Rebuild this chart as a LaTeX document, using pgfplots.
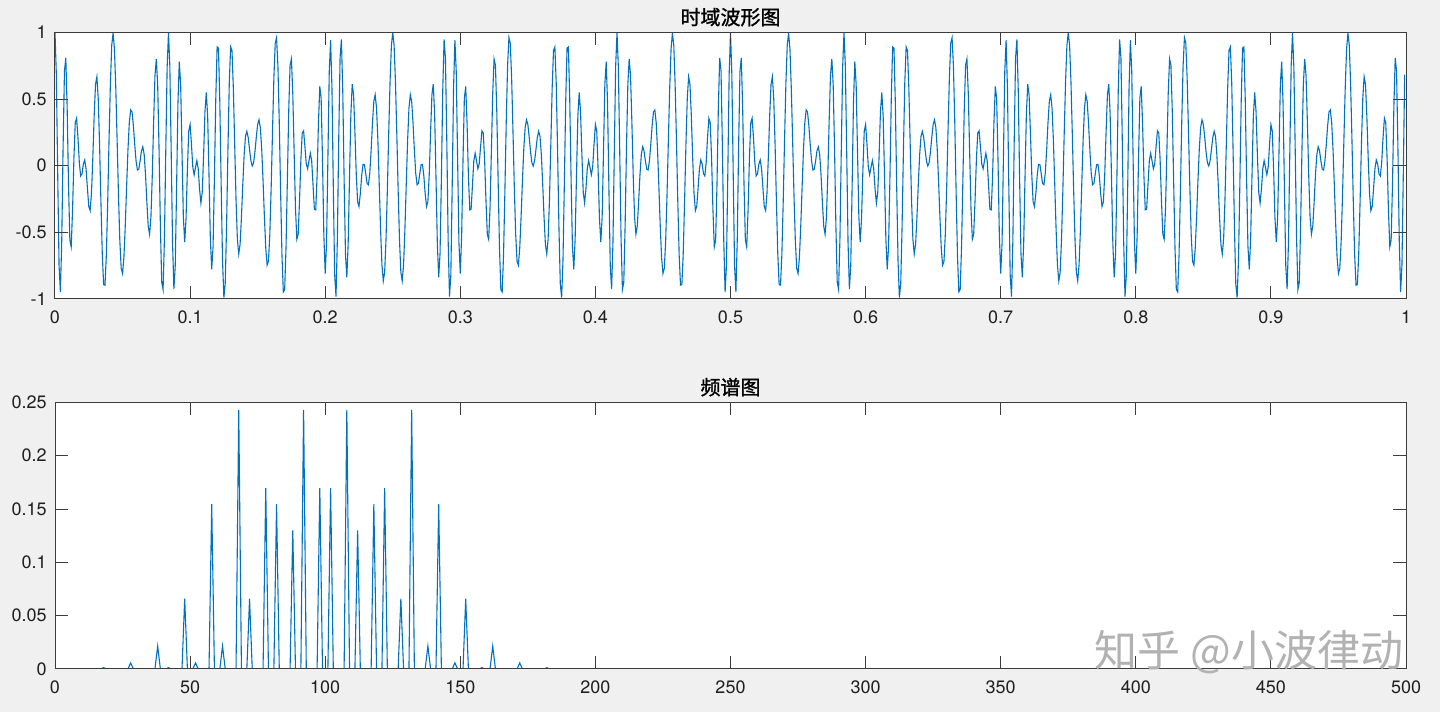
\documentclass[border=0pt]{standalone}
\usepackage{fontspec}
\setmainfont{TeX Gyre Heros}
\newfontfamily\cjk{Noto Sans CJK SC}
\newfontfamily\cjkb{Noto Sans CJK SC}[FakeBold=1.2]
\usepackage{pgfplots}
\pgfplotsset{compat=1.18}
\definecolor{mline}{rgb}{0,0.447,0.741}
\definecolor{figbg}{RGB}{240,240,240}
\definecolor{axc}{RGB}{60,60,60}
\definecolor{wm}{RGB}{178,178,178}
\pgfplotsset{mstyle/.style={
  scale only axis, width=675.5pt, height=133.3pt,
  axis background/.style={fill=white},
  axis line style={draw=axc, line width=0.5pt},
  every tick/.style={draw=axc, line width=0.5pt},
  major tick length=6.5pt,
  tick align=inside,
  xtick pos=both, ytick pos=both,
  xticklabel pos=lower, yticklabel pos=left,
  every tick label/.append style={font=\fontsize{9}{10}\selectfont, text=black!88},
  xticklabel style={yshift=-2.5pt},
  yticklabel style={xshift=-0.6pt},
  /pgf/number format/assume math mode=true,
  scaled ticks=false,
  every axis title/.style={font=\cjkb\fontsize{10}{12}\selectfont, at={(0.5,1)}, anchor=base, yshift=3.85pt, inner sep=0pt},
  axis on top,
  clip=true,
}}
\begin{document}
\begin{tikzpicture}[x=1pt,y=1pt]
\useasboundingbox (0,0) rectangle (720,356);
\fill[figbg] (0,0) rectangle (720,356);
\begin{axis}[mstyle,
  at={(27.5pt,206.5pt)}, anchor=south west,
  title={时域波形图},
  xmin=0, xmax=1000, ymin=-1, ymax=1,
  xtick={0,100,200,300,400,500,600,700,800,900,1000},
  xticklabels={0,0.1,0.2,0.3,0.4,0.5,0.6,0.7,0.8,0.9,1},
  ytick={-1,-0.5,0,0.5,1},
  yticklabels={-1,-0.5,0,0.5,1},
]
\addplot[mline, line width=0.55pt] table {
n y
0 1.000
1 0.683
2 -0.061
3 -0.749
4 -0.948
5 -0.558
6 0.145
7 0.709
8 0.809
9 0.434
10 -0.140
11 -0.557
12 -0.609
13 -0.333
14 0.055
15 0.322
16 0.356
17 0.210
18 0.024
19 -0.077
20 -0.060
21 0.012
22 0.043
23 -0.024
24 -0.169
25 -0.306
26 -0.337
27 -0.207
28 0.061
29 0.375
30 0.611
31 0.667
32 0.504
33 0.157
34 -0.274
35 -0.662
36 -0.892
37 -0.896
38 -0.672
39 -0.277
40 0.190
41 0.616
42 0.905
43 0.995
44 0.875
45 0.581
46 0.185
47 -0.226
48 -0.566
49 -0.770
50 -0.809
51 -0.690
52 -0.453
53 -0.161
54 0.117
55 0.322
56 0.418
57 0.403
58 0.301
59 0.161
60 0.036
61 -0.032
62 -0.026
63 0.036
64 0.111
65 0.142
66 0.085
67 -0.066
68 -0.272
69 -0.453
70 -0.514
71 -0.388
72 -0.078
73 0.328
74 0.676
75 0.801
76 0.607
77 0.132
78 -0.448
79 -0.875
80 -0.929
81 -0.548
82 0.112
83 0.736
84 0.999
85 0.749
86 0.110
87 -0.575
88 -0.925
89 -0.751
90 -0.168
91 0.467
92 0.780
93 0.612
94 0.112
95 -0.383
96 -0.574
97 -0.395
98 -0.028
99 0.260
100 0.309
101 0.162
102 -0.010
103 -0.068
104 -0.013
105 0.038
106 -0.022
107 -0.174
108 -0.280
109 -0.199
110 0.081
111 0.406
112 0.549
113 0.369
114 -0.076
115 -0.551
116 -0.778
117 -0.606
118 -0.097
119 0.501
120 0.891
121 0.882
122 0.475
123 -0.147
124 -0.712
125 -0.990
126 -0.884
127 -0.456
128 0.116
129 0.620
130 0.891
131 0.865
132 0.583
133 0.162
134 -0.255
135 -0.551
136 -0.662
137 -0.590
138 -0.389
139 -0.139
140 0.081
141 0.220
142 0.258
143 0.212
144 0.122
145 0.038
146 -0.002
147 0.022
148 0.104
149 0.214
150 0.309
151 0.344
152 0.285
153 0.126
154 -0.113
155 -0.383
156 -0.617
157 -0.746
158 -0.718
159 -0.517
160 -0.168
161 0.257
162 0.656
163 0.919
164 0.960
165 0.749
166 0.327
167 -0.197
168 -0.672
169 -0.947
170 -0.929
171 -0.615
172 -0.110
173 0.410
174 0.754
175 0.801
176 0.544
177 0.106
178 -0.320
179 -0.552
180 -0.514
181 -0.262
182 0.045
183 0.245
184 0.261
185 0.142
186 0.013
187 -0.023
188 0.037
189 0.093
190 0.036
191 -0.145
192 -0.327
193 -0.331
194 -0.076
195 0.322
196 0.594
197 0.505
198 0.044
199 -0.522
200 -0.809
201 -0.583
202 0.055
203 0.707
204 0.941
205 0.581
206 -0.159
207 -0.817
208 -0.982
209 -0.557
210 0.190
211 0.808
212 0.948
213 0.561
214 -0.102
215 -0.662
216 -0.837
217 -0.584
218 -0.084
219 0.386
220 0.611
221 0.534
222 0.251
223 -0.067
224 -0.271
225 -0.306
226 -0.210
227 -0.075
228 0.010
229 0.008
230 -0.060
231 -0.133
232 -0.143
233 -0.056
234 0.117
235 0.322
236 0.483
237 0.532
238 0.432
239 0.191
240 -0.140
241 -0.480
242 -0.745
243 -0.864
244 -0.799
245 -0.558
246 -0.186
247 0.239
248 0.629
249 0.902
250 1.000
251 0.902
252 0.629
253 0.239
254 -0.186
255 -0.558
256 -0.799
257 -0.864
258 -0.745
259 -0.480
260 -0.140
261 0.191
262 0.432
263 0.532
264 0.483
265 0.322
266 0.117
267 -0.056
268 -0.143
269 -0.133
270 -0.060
271 0.008
272 0.010
273 -0.075
274 -0.210
275 -0.306
276 -0.271
277 -0.067
278 0.251
279 0.534
280 0.611
281 0.386
282 -0.084
283 -0.584
284 -0.837
285 -0.662
286 -0.102
287 0.561
288 0.948
289 0.808
290 0.190
291 -0.557
292 -0.982
293 -0.817
294 -0.159
295 0.581
296 0.941
297 0.707
298 0.055
299 -0.583
300 -0.809
301 -0.522
302 0.044
303 0.505
304 0.594
305 0.322
306 -0.076
307 -0.331
308 -0.327
309 -0.145
310 0.036
311 0.093
312 0.037
313 -0.023
314 0.013
315 0.142
316 0.261
317 0.245
318 0.045
319 -0.262
320 -0.514
321 -0.552
322 -0.320
323 0.106
324 0.544
325 0.801
326 0.754
327 0.410
328 -0.110
329 -0.615
330 -0.929
331 -0.947
332 -0.672
333 -0.197
334 0.327
335 0.749
336 0.960
337 0.919
338 0.656
339 0.257
340 -0.168
341 -0.517
342 -0.718
343 -0.746
344 -0.617
345 -0.383
346 -0.113
347 0.126
348 0.285
349 0.344
350 0.309
351 0.214
352 0.104
353 0.022
354 -0.002
355 0.038
356 0.122
357 0.212
358 0.258
359 0.220
360 0.081
361 -0.139
362 -0.389
363 -0.590
364 -0.662
365 -0.551
366 -0.255
367 0.162
368 0.583
369 0.865
370 0.891
371 0.620
372 0.116
373 -0.456
374 -0.884
375 -0.990
376 -0.712
377 -0.147
378 0.475
379 0.882
380 0.891
381 0.501
382 -0.097
383 -0.606
384 -0.778
385 -0.551
386 -0.076
387 0.369
388 0.549
389 0.406
390 0.081
391 -0.199
392 -0.280
393 -0.174
394 -0.022
395 0.038
396 -0.013
397 -0.068
398 -0.010
399 0.162
400 0.309
401 0.260
402 -0.028
403 -0.395
404 -0.574
405 -0.383
406 0.112
407 0.612
408 0.780
409 0.467
410 -0.168
411 -0.751
412 -0.925
413 -0.575
414 0.110
415 0.749
416 0.999
417 0.736
418 0.112
419 -0.548
420 -0.929
421 -0.875
422 -0.448
423 0.132
424 0.607
425 0.801
426 0.676
427 0.328
428 -0.078
429 -0.388
430 -0.514
431 -0.453
432 -0.272
433 -0.066
434 0.085
435 0.142
436 0.111
437 0.036
438 -0.026
439 -0.032
440 0.036
441 0.161
442 0.301
443 0.403
444 0.418
445 0.322
446 0.117
447 -0.161
448 -0.453
449 -0.690
450 -0.809
451 -0.770
452 -0.566
453 -0.226
454 0.185
455 0.581
456 0.875
457 0.995
458 0.905
459 0.616
460 0.190
461 -0.277
462 -0.672
463 -0.896
464 -0.892
465 -0.662
466 -0.274
467 0.157
468 0.504
469 0.667
470 0.611
471 0.375
472 0.061
473 -0.207
474 -0.337
475 -0.306
476 -0.169
477 -0.024
478 0.043
479 0.012
480 -0.060
481 -0.077
482 0.024
483 0.210
484 0.356
485 0.322
486 0.055
487 -0.333
488 -0.609
489 -0.557
490 -0.140
491 0.434
492 0.809
493 0.709
494 0.145
495 -0.558
496 -0.948
497 -0.749
498 -0.061
499 0.683
500 1.000
501 0.683
502 -0.061
503 -0.749
504 -0.948
505 -0.558
506 0.145
507 0.709
508 0.809
509 0.434
510 -0.140
511 -0.557
512 -0.609
513 -0.333
514 0.055
515 0.322
516 0.356
517 0.210
518 0.024
519 -0.077
520 -0.060
521 0.012
522 0.043
523 -0.024
524 -0.169
525 -0.306
526 -0.337
527 -0.207
528 0.061
529 0.375
530 0.611
531 0.667
532 0.504
533 0.157
534 -0.274
535 -0.662
536 -0.892
537 -0.896
538 -0.672
539 -0.277
540 0.190
541 0.616
542 0.905
543 0.995
544 0.875
545 0.581
546 0.185
547 -0.226
548 -0.566
549 -0.770
550 -0.809
551 -0.690
552 -0.453
553 -0.161
554 0.117
555 0.322
556 0.418
557 0.403
558 0.301
559 0.161
560 0.036
561 -0.032
562 -0.026
563 0.036
564 0.111
565 0.142
566 0.085
567 -0.066
568 -0.272
569 -0.453
570 -0.514
571 -0.388
572 -0.078
573 0.328
574 0.676
575 0.801
576 0.607
577 0.132
578 -0.448
579 -0.875
580 -0.929
581 -0.548
582 0.112
583 0.736
584 0.999
585 0.749
586 0.110
587 -0.575
588 -0.925
589 -0.751
590 -0.168
591 0.467
592 0.780
593 0.612
594 0.112
595 -0.383
596 -0.574
597 -0.395
598 -0.028
599 0.260
600 0.309
601 0.162
602 -0.010
603 -0.068
604 -0.013
605 0.038
606 -0.022
607 -0.174
608 -0.280
609 -0.199
610 0.081
611 0.406
612 0.549
613 0.369
614 -0.076
615 -0.551
616 -0.778
617 -0.606
618 -0.097
619 0.501
620 0.891
621 0.882
622 0.475
623 -0.147
624 -0.712
625 -0.990
626 -0.884
627 -0.456
628 0.116
629 0.620
630 0.891
631 0.865
632 0.583
633 0.162
634 -0.255
635 -0.551
636 -0.662
637 -0.590
638 -0.389
639 -0.139
640 0.081
641 0.220
642 0.258
643 0.212
644 0.122
645 0.038
646 -0.002
647 0.022
648 0.104
649 0.214
650 0.309
651 0.344
652 0.285
653 0.126
654 -0.113
655 -0.383
656 -0.617
657 -0.746
658 -0.718
659 -0.517
660 -0.168
661 0.257
662 0.656
663 0.919
664 0.960
665 0.749
666 0.327
667 -0.197
668 -0.672
669 -0.947
670 -0.929
671 -0.615
672 -0.110
673 0.410
674 0.754
675 0.801
676 0.544
677 0.106
678 -0.320
679 -0.552
680 -0.514
681 -0.262
682 0.045
683 0.245
684 0.261
685 0.142
686 0.013
687 -0.023
688 0.037
689 0.093
690 0.036
691 -0.145
692 -0.327
693 -0.331
694 -0.076
695 0.322
696 0.594
697 0.505
698 0.044
699 -0.522
700 -0.809
701 -0.583
702 0.055
703 0.707
704 0.941
705 0.581
706 -0.159
707 -0.817
708 -0.982
709 -0.557
710 0.190
711 0.808
712 0.948
713 0.561
714 -0.102
715 -0.662
716 -0.837
717 -0.584
718 -0.084
719 0.386
720 0.611
721 0.534
722 0.251
723 -0.067
724 -0.271
725 -0.306
726 -0.210
727 -0.075
728 0.010
729 0.008
730 -0.060
731 -0.133
732 -0.143
733 -0.056
734 0.117
735 0.322
736 0.483
737 0.532
738 0.432
739 0.191
740 -0.140
741 -0.480
742 -0.745
743 -0.864
744 -0.799
745 -0.558
746 -0.186
747 0.239
748 0.629
749 0.902
750 1.000
751 0.902
752 0.629
753 0.239
754 -0.186
755 -0.558
756 -0.799
757 -0.864
758 -0.745
759 -0.480
760 -0.140
761 0.191
762 0.432
763 0.532
764 0.483
765 0.322
766 0.117
767 -0.056
768 -0.143
769 -0.133
770 -0.060
771 0.008
772 0.010
773 -0.075
774 -0.210
775 -0.306
776 -0.271
777 -0.067
778 0.251
779 0.534
780 0.611
781 0.386
782 -0.084
783 -0.584
784 -0.837
785 -0.662
786 -0.102
787 0.561
788 0.948
789 0.808
790 0.190
791 -0.557
792 -0.982
793 -0.817
794 -0.159
795 0.581
796 0.941
797 0.707
798 0.055
799 -0.583
800 -0.809
801 -0.522
802 0.044
803 0.505
804 0.594
805 0.322
806 -0.076
807 -0.331
808 -0.327
809 -0.145
810 0.036
811 0.093
812 0.037
813 -0.023
814 0.013
815 0.142
816 0.261
817 0.245
818 0.045
819 -0.262
820 -0.514
821 -0.552
822 -0.320
823 0.106
824 0.544
825 0.801
826 0.754
827 0.410
828 -0.110
829 -0.615
830 -0.929
831 -0.947
832 -0.672
833 -0.197
834 0.327
835 0.749
836 0.960
837 0.919
838 0.656
839 0.257
840 -0.168
841 -0.517
842 -0.718
843 -0.746
844 -0.617
845 -0.383
846 -0.113
847 0.126
848 0.285
849 0.344
850 0.309
851 0.214
852 0.104
853 0.022
854 -0.002
855 0.038
856 0.122
857 0.212
858 0.258
859 0.220
860 0.081
861 -0.139
862 -0.389
863 -0.590
864 -0.662
865 -0.551
866 -0.255
867 0.162
868 0.583
869 0.865
870 0.891
871 0.620
872 0.116
873 -0.456
874 -0.884
875 -0.990
876 -0.712
877 -0.147
878 0.475
879 0.882
880 0.891
881 0.501
882 -0.097
883 -0.606
884 -0.778
885 -0.551
886 -0.076
887 0.369
888 0.549
889 0.406
890 0.081
891 -0.199
892 -0.280
893 -0.174
894 -0.022
895 0.038
896 -0.013
897 -0.068
898 -0.010
899 0.162
900 0.309
901 0.260
902 -0.028
903 -0.395
904 -0.574
905 -0.383
906 0.112
907 0.612
908 0.780
909 0.467
910 -0.168
911 -0.751
912 -0.925
913 -0.575
914 0.110
915 0.749
916 0.999
917 0.736
918 0.112
919 -0.548
920 -0.929
921 -0.875
922 -0.448
923 0.132
924 0.607
925 0.801
926 0.676
927 0.328
928 -0.078
929 -0.388
930 -0.514
931 -0.453
932 -0.272
933 -0.066
934 0.085
935 0.142
936 0.111
937 0.036
938 -0.026
939 -0.032
940 0.036
941 0.161
942 0.301
943 0.403
944 0.418
945 0.322
946 0.117
947 -0.161
948 -0.453
949 -0.690
950 -0.809
951 -0.770
952 -0.566
953 -0.226
954 0.185
955 0.581
956 0.875
957 0.995
958 0.905
959 0.616
960 0.190
961 -0.277
962 -0.672
963 -0.896
964 -0.892
965 -0.662
966 -0.274
967 0.157
968 0.504
969 0.667
970 0.611
971 0.375
972 0.061
973 -0.207
974 -0.337
975 -0.306
976 -0.169
977 -0.024
978 0.043
979 0.012
980 -0.060
981 -0.077
982 0.024
983 0.210
984 0.356
985 0.322
986 0.055
987 -0.333
988 -0.609
989 -0.557
990 -0.140
991 0.434
992 0.809
993 0.709
994 0.145
995 -0.558
996 -0.948
997 -0.749
998 -0.061
999 0.683
};
\end{axis}
\begin{axis}[mstyle,
  at={(27.5pt,21.5pt)}, anchor=south west,
  title={频谱图},
  xmin=0, xmax=500, ymin=0, ymax=0.25,
  xtick={0,50,100,150,200,250,300,350,400,450,500},
  xticklabels={0,50,100,150,200,250,300,350,400,450,500},
  ytick={0,0.05,0.1,0.15,0.2,0.25},
  yticklabels={0,0.05,0.1,0.15,0.2,0.25},
]
\addplot[mline, line width=0.55pt] coordinates {
(0,0)(7,0)(8,0.00025)(9,0)(17,0)(18,0.0013)(19,0)(27,0)(28,0.0057)(29,0)
(31,0)(32,0.00025)(33,0)(37,0)(38,0.0215)(39,0)(41,0)(42,0.0013)(43,0)
(47,0)(48,0.066)(49,0)(51,0)(52,0.0057)(53,0)(57,0)(58,0.1545)(59,0)
(61,0)(62,0.0215)(63,0)(67,0)(68,0.243)(69,0)(71,0)(72,0.066)(73,0)
(77,0)(78,0.1695)(79,0)(81,0)(82,0.1545)(83,0)(87,0)(88,0.130)(89,0)
(91,0)(92,0.243)(93,0)(97,0)(98,0.1695)(99,0)(101,0)(102,0.1695)(103,0)
(107,0)(108,0.243)(109,0)(111,0)(112,0.130)(113,0)(117,0)(118,0.1545)(119,0)
(121,0)(122,0.1695)(123,0)(127,0)(128,0.066)(129,0)(131,0)(132,0.243)(133,0)
(137,0)(138,0.0215)(139,0)(141,0)(142,0.1545)(143,0)(147,0)(148,0.0057)(149,0)
(151,0)(152,0.066)(153,0)(157,0)(158,0.0013)(159,0)(161,0)(162,0.0215)(163,0)
(167,0)(168,0.00025)(169,0)(171,0)(172,0.0057)(173,0)(181,0)(182,0.0013)(183,0)
(191,0)(192,0.00025)(193,0)(500,0)
};
\end{axis}
\node[font=\cjk\fontsize{21.5}{22}\selectfont, text=wm] at (624.5,30) {知乎 @小波律动};
\end{tikzpicture}
\end{document}
